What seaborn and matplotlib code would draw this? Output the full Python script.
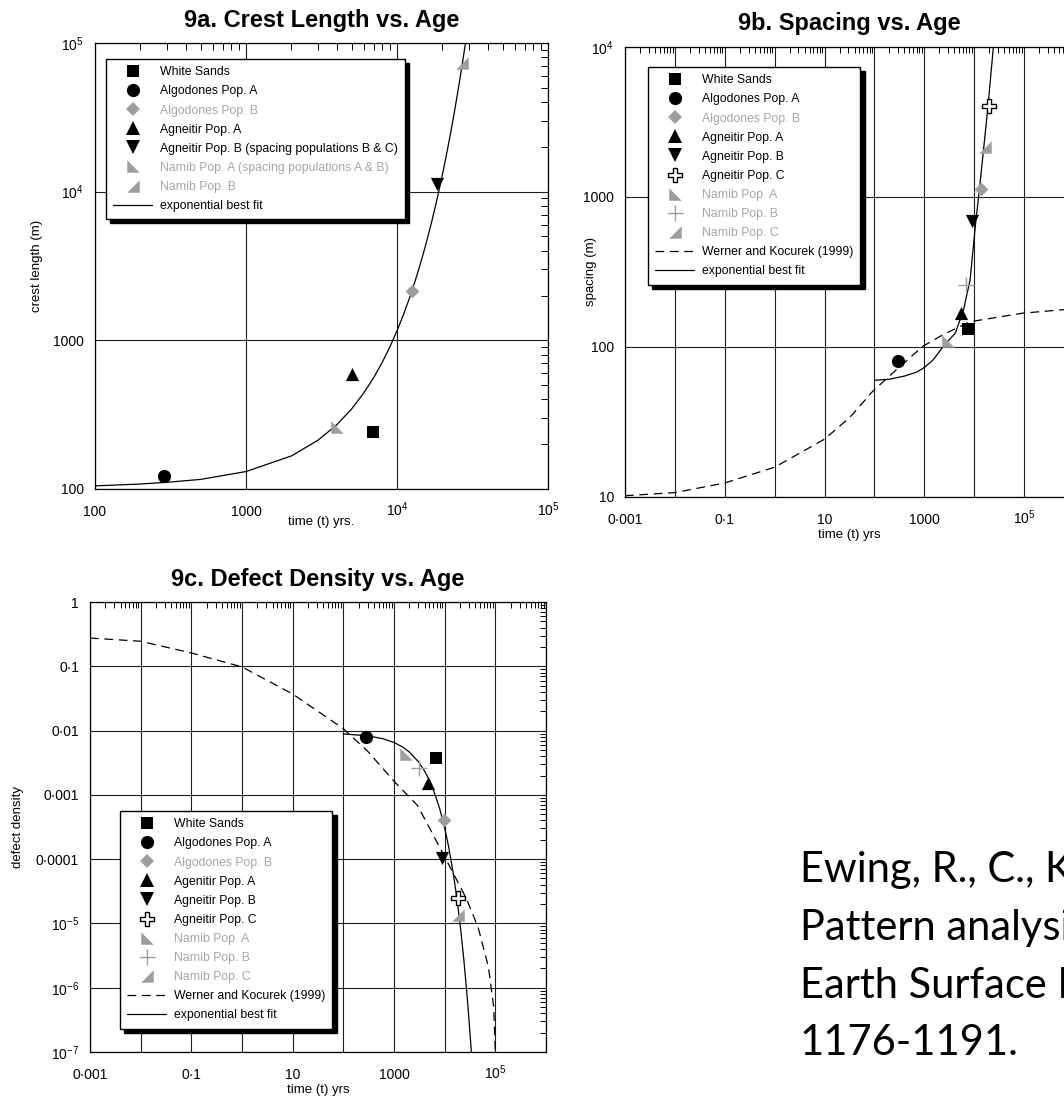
"""Ewing et al. (2006), fig. 9 -- dune-field pattern parameters vs. age.

Three log-log panels (crest length, spacing, defect density), each with the
exponential best fit; 9b and 9c also carry the Werner & Kocurek (1999) curve.
The citation goes in the spare lower-right corner.
"""

import matplotlib

matplotlib.use("Agg")
import matplotlib.pyplot as plt
import numpy as np
import seaborn as sns
from matplotlib.lines import Line2D
from matplotlib.ticker import LogLocator, NullFormatter

sns.set_theme(style="white")
plt.rcParams.update(
    {
        "font.family": ["Liberation Sans", "DejaVu Sans"],
        "mathtext.fontset": "custom",
        "mathtext.rm": "Liberation Sans",
        "mathtext.it": "Liberation Sans:italic",
        "mathtext.bf": "Liberation Sans:bold",
        "text.color": "black",
        "axes.labelcolor": "black",
        "axes.edgecolor": "black",
        "xtick.color": "black",
        "ytick.color": "black",
    }
)

W, H = 1064, 1101
GREY = "#9e9e9e"
GREY_TXT = "#a6a6a6"
DASH = (0, (7, 4.5))

# --- 9a: crest length (m) vs age (yrs) -------------------------------------
A_KEYS = ["ws", "algA", "algB", "agnA", "agnB", "namA", "namC"]
A_LABELS = [
    "White Sands",
    "Algodones Pop. A",
    "Algodones Pop. B",
    "Agneitir Pop. A",
    "Agneitir Pop. B (spacing populations B & C)",
    "Namib Pop. A (spacing populations A & B)",
    "Namib Pop. B",
]
A_T = [6980, 288, 12560, 5010, 18400, 4010, 26900]
A_Y = [241, 123, 2160, 592, 11200, 263, 73500]
A_FIT_T = [100, 200, 300, 500, 1000, 2000, 3000, 4000, 5000, 6000, 7000, 8000, 9000,
           10000, 11000, 12000, 13000, 14000, 15000, 16000, 17000, 18000, 19000, 20000,
           21000, 22000, 23000, 24000, 25000, 26000, 27000, 28000, 28500]
A_FIT_Y = [105, 108, 111, 116, 131, 167, 213, 271, 345, 440, 560, 714, 910,
           1159, 1477, 1881, 2397, 3054, 3892, 4959, 6318, 8050, 10260, 13070,
           16650, 21220, 27040, 34440, 43890, 55910, 71240, 90770, 102500]

# --- 9b: spacing (m) vs age -------------------------------------------------
B_KEYS = ["ws", "algA", "algB", "agnA", "agnB", "agnC", "namA", "namB", "namC"]
B_LABELS = [
    "White Sands",
    "Algodones Pop. A",
    "Algodones Pop. B",
    "Agneitir Pop. A",
    "Agneitir Pop. B",
    "Agneitir Pop. C",
    "Namib Pop. A",
    "Namib Pop. B",
    "Namib Pop. C",
]
B_T = [7470, 293, 13870, 5420, 9150, 20100, 2930, 6900, 16100]
B_Y = [132, 80.4, 1124, 169, 694, 4040, 109, 258, 2170]
B_FIT_T = [100, 200, 400, 700, 1000, 1500, 2400, 4200, 6100, 8250, 10800, 12700,
           15600, 18900, 24200]
B_FIT_Y = [60, 61, 64, 68, 73, 82, 101, 124, 177, 279, 694, 1124, 2170, 4040, 10000]
B_WK_T = [0.001, 0.01, 0.1, 1, 10, 32, 93, 293, 930, 2500, 7100, 10000, 92700,
          570000, 1000000]
B_WK_Y = [10.2, 10.7, 12.4, 15.8, 24.3, 33.9, 50.8, 71.9, 101, 122, 144, 149, 168,
          177, 178]

# --- 9c: defect density vs age ---------------------------------------------
C_KEYS = B_KEYS
C_LABELS = [
    "White Sands",
    "Algodones Pop. A",
    "Algodones Pop. B",
    "Agenitir Pop. A",
    "Agneitir Pop. B",
    "Agneitir Pop. C",
    "Namib Pop. A",
    "Namib Pop. B",
    "Namib Pop. C",
]
C_T = [6760, 281, 9800, 4790, 8820, 18700, 1730, 3090, 18700]
C_Y = [0.00372, 0.00807, 0.000408, 0.00152, 0.000106, 2.51e-5, 0.00434, 0.0026, 1.34e-5]
C_FIT_T = [100, 300, 600, 1000, 1500, 2000, 3000, 4000, 5000, 6000, 8000, 10000,
           12000, 15000, 18000, 21000, 24000, 27000, 30000, 33000, 34000]
C_FIT_Y = [0.00887, 0.00829, 0.00749, 0.00653, 0.00551, 0.00465, 0.00331, 0.00236,
           0.00168, 0.00119, 0.000605, 0.000306, 0.000155, 5.6e-5, 2.02e-5, 7.28e-6,
           2.63e-6, 9.47e-7, 3.41e-7, 1.23e-7, 8.8e-8]
C_WK_T = [0.001, 0.01, 0.1, 1, 10, 100, 300, 1000, 2900, 5500, 10300, 26400, 45700,
          73100, 92500, 100000]
C_WK_Y = [0.275, 0.245, 0.161, 0.0977, 0.037, 0.0107, 0.0048, 0.00163, 0.000685,
          0.000267, 1.04e-4, 2.5e-5, 8.7e-6, 2.1e-6, 5.1e-7, 1e-7]

# tick labels
A_TICKS = [100, 1000, 1e4, 1e5]
A_TICKLABELS = ["100", "1000", r"$\mathregular{10^4}$", r"$\mathregular{10^5}$"]
T_TICKS = [1e-3, 1e-2, 1e-1, 1, 10, 100, 1e3, 1e4, 1e5, 1e6]
T_TICKLABELS = ["0·001", "", "0·1", "", "10", "", "1000", "", r"$\mathregular{10^5}$", ""]
B_YTICKS = [10, 100, 1000, 1e4]
B_YTICKLABELS = ["10", "100", "1000", r"$\mathregular{10^4}$"]
C_YTICKS = [1e-7, 1e-6, 1e-5, 1e-4, 1e-3, 1e-2, 1e-1, 1]
C_YTICKLABELS = [r"$\mathregular{10^{-7}}$", r"$\mathregular{10^{-6}}$",
                 r"$\mathregular{10^{-5}}$", "0·0001", "0·001", "0·01", "0·1", "1"]

CITATION = [
    "Ewing, R., C., Kocurek, G., Lake, L. W. (2006).",
    "Pattern analysis of dune-field parameters.",
    "Earth Surface Processes and Landforms, 31,",
    "1176-1191.",
]

# marker look per population
TRI_BL = [(-1, 1), (-1, -1), (1, -1), (-1, 1)]   # right angle bottom-left
TRI_BR = [(1, 1), (1, -1), (-1, -1), (1, 1)]     # right angle bottom-right
STYLE = {
    "ws": dict(marker="s", face="black", edge="black", size=9, lw=0),
    "algA": dict(marker="o", face="black", edge="black", size=9.5, lw=0),
    "algB": dict(marker="D", face=GREY, edge=GREY, size=7, lw=0),
    "agnA": dict(marker="^", face="black", edge="black", size=9.5, lw=0),
    "agnB": dict(marker="v", face="black", edge="black", size=9.5, lw=0),
    "agnC": dict(marker="P", face="white", edge="black", size=10, lw=1.0),
    "namA": dict(marker=TRI_BL, face=GREY, edge=GREY, size=9, lw=0),
    "namB": dict(marker="+", face=GREY, edge=GREY, size=12, lw=1.0),
    "namC": dict(marker=TRI_BR, face=GREY, edge=GREY, size=9, lw=0),
}
GREY_KEYS = {"algB", "namA", "namB", "namC"}


def px_box(left, top, right, bottom):
    return [left / W, 1 - bottom / H, (right - left) / W, (bottom - top) / H]


def draw_panel(ax, keys, ts, ys, fit_t, fit_y, wk_t=None, wk_y=None):
    ax.set_xscale("log")
    ax.set_yscale("log")
    if wk_t is not None:
        sns.lineplot(x=wk_t, y=wk_y, ax=ax, color="black", linewidth=0.9,
                     linestyle=DASH, sort=False, estimator=None, zorder=3)
    sns.lineplot(x=fit_t, y=fit_y, ax=ax, color="black", linewidth=0.9,
                 sort=False, estimator=None, zorder=3)
    for key, t, y in zip(keys, ts, ys):
        st = STYLE[key]
        kw = dict(marker=st["marker"], s=st["size"] ** 2, color=st["face"], ax=ax, zorder=5)
        if st["marker"] == "+":
            kw["linewidth"] = st["lw"]
        else:
            kw["edgecolor"] = st["edge"]
            kw["linewidth"] = st["lw"]
        sns.scatterplot(x=[t], y=[y], **kw)


def style_axes(ax, xlim, ylim, xticks, xlabels, yticks, ylabels, minor_len):
    ax.set_xlim(*xlim)
    ax.set_ylim(*ylim)
    ax.set_xticks(xticks, xlabels)
    ax.set_yticks(yticks, ylabels)
    for axis in (ax.xaxis, ax.yaxis):
        axis.set_minor_locator(LogLocator(base=10, subs=np.arange(2, 10), numticks=100))
        axis.set_minor_formatter(NullFormatter())
    ax.grid(True, which="major", color="#1e1e1e", linewidth=0.8)
    ax.grid(False, which="minor")
    ax.tick_params(which="both", direction="in", top=True, right=True, width=0.7)
    ax.tick_params(which="major", length=0, labelsize=10)
    ax.tick_params(which="minor", length=minor_len)
    ax.tick_params(axis="x", which="major", pad=19.5)
    ax.tick_params(axis="y", which="major", pad=8)
    plt.setp(ax.get_xticklabels(), va="baseline")
    for sp in ax.spines.values():
        sp.set_color("black")
        sp.set_linewidth(0.9)


def add_legend(fig, ax, keys, labels, lines, anchor_px):
    handles = []
    for key in keys:
        st = STYLE[key]
        handles.append(
            Line2D([], [], linestyle="none", marker=st["marker"], markersize=st["size"],
                   markerfacecolor=st["face"], markeredgecolor=st["edge"],
                   markeredgewidth=st["lw"])
        )
    names = list(labels)
    for name, ls in lines:
        handles.append(Line2D([], [], color="black", linewidth=0.9, linestyle=ls))
        names.append(name)
    leg = ax.legend(
        handles,
        names,
        loc="upper left",
        bbox_to_anchor=(anchor_px[0] / W, 1 - anchor_px[1] / H),
        bbox_transform=fig.transFigure,
        borderaxespad=0,
        fontsize=8.8,
        handlelength=3.2,
        handletextpad=0.6,
        labelspacing=0.58,
        borderpad=0.6,
        frameon=True,
        fancybox=False,
        framealpha=1,
        edgecolor="black",
        shadow={"ox": 3, "oy": -3, "color": "black", "alpha": 1},
    )
    leg.get_frame().set_linewidth(1.0)
    leg.set_zorder(10)
    for txt, key in zip(leg.get_texts(), keys):
        txt.set_color(GREY_TXT if key in GREY_KEYS else "black")


def main():
    fig = plt.figure(figsize=(W / 100, H / 100), dpi=100, facecolor="white")

    # 9a
    ax_a = fig.add_axes(px_box(95, 43, 548, 489))
    draw_panel(ax_a, A_KEYS, A_T, A_Y, A_FIT_T, A_FIT_Y)
    style_axes(ax_a, (100, 1e5), (100, 1e5), A_TICKS, A_TICKLABELS,
               A_TICKS, A_TICKLABELS, 5)
    ax_a.set_title("9a. Crest Length vs. Age", fontsize=17, fontweight="bold", pad=11.5)
    ax_a.set_xlabel("time (t) yrs.", fontsize=9.5)
    ax_a.set_ylabel("crest length (m)", fontsize=9.5)
    ax_a.xaxis.set_label_coords(0.5, -0.06)
    ax_a.yaxis.set_label_coords(-0.115, 0.5)
    add_legend(fig, ax_a, A_KEYS, A_LABELS, [("exponential best fit", "-")], (106, 59))

    # 9b -- the right end of this panel runs off the page in the source scan
    ax_b = fig.add_axes(px_box(625, 47, 1074, 497))
    draw_panel(ax_b, B_KEYS, B_T, B_Y, B_FIT_T, B_FIT_Y, B_WK_T, B_WK_Y)
    style_axes(ax_b, (1e-3, 1e6), (10, 1e4), T_TICKS, T_TICKLABELS,
               B_YTICKS, B_YTICKLABELS, 4)
    ax_b.set_title("9b. Spacing vs. Age", fontsize=17, fontweight="bold", pad=12)
    ax_b.set_xlabel("time (t) yrs", fontsize=9.5)
    ax_b.set_ylabel("spacing (m)", fontsize=9.5)
    ax_b.xaxis.set_label_coords(0.5, -0.071)
    ax_b.yaxis.set_label_coords(-0.062, 0.5)
    add_legend(fig, ax_b, B_KEYS, B_LABELS,
               [("Werner and Kocurek (1999)", DASH), ("exponential best fit", "-")],
               (648, 67))

    # 9c
    ax_c = fig.add_axes(px_box(90, 602, 546, 1052))
    draw_panel(ax_c, C_KEYS, C_T, C_Y, C_FIT_T, C_FIT_Y, C_WK_T, C_WK_Y)
    style_axes(ax_c, (1e-3, 1e6), (1e-7, 1), T_TICKS, T_TICKLABELS,
               C_YTICKS, C_YTICKLABELS, 4)
    ax_c.set_title("9c. Defect Density vs. Age", fontsize=17, fontweight="bold", pad=11.5)
    ax_c.set_xlabel("time (t) yrs", fontsize=9.5)
    ax_c.set_ylabel("defect density", fontsize=9.5)
    ax_c.xaxis.set_label_coords(0.5, -0.071)
    ax_c.yaxis.set_label_coords(-0.145, 0.5)
    add_legend(fig, ax_c, C_KEYS, C_LABELS,
               [("Werner and Kocurek (1999)", DASH), ("exponential best fit", "-")],
               (120, 811))

    # citation, cut by the page edge exactly as in the source slide
    for i, line in enumerate(CITATION):
        fig.text(800 / W, 1 - (882 + 57.7 * i) / H, line, fontsize=30,
                 family=["Lato", "DejaVu Sans"], va="baseline", ha="left")

    fig.savefig("out.png", dpi=100, facecolor="white")


if __name__ == "__main__":
    main()
